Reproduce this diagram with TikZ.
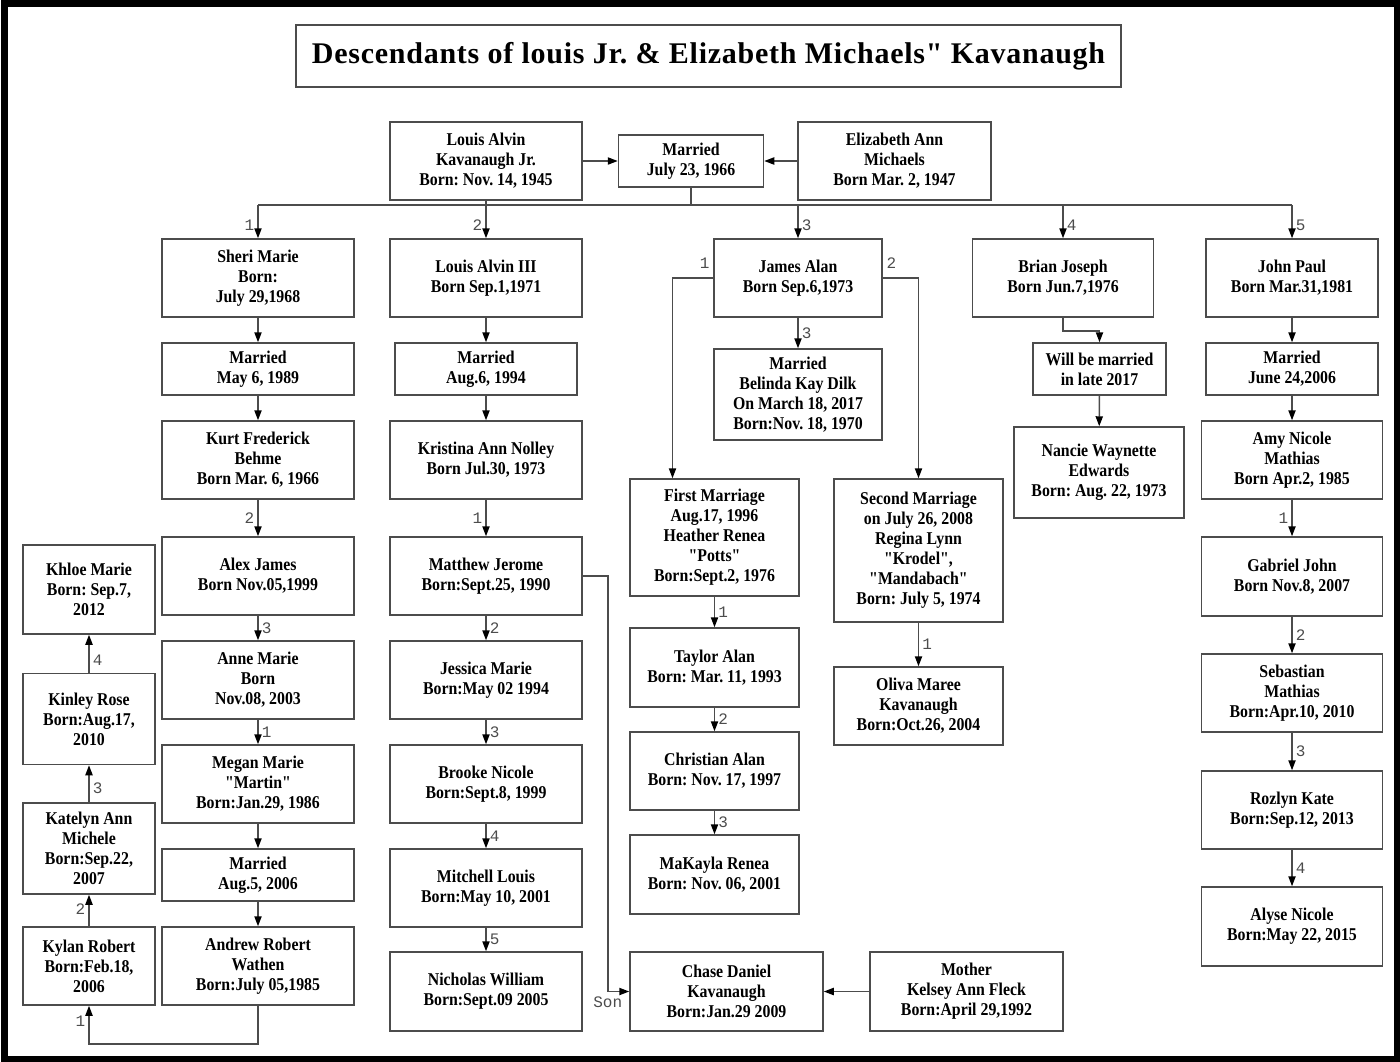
\documentclass[tikz,border=0pt]{standalone}
\usepackage{fontspec}
\setmainfont{Liberation Serif}[FakeStretch=0.88, Ligatures=TeXOff]
\setmonofont{Liberation Mono}
\newfontfamily\titlefont{Liberation Serif}[LetterSpace=2.5, Ligatures=TeXOff]
\usetikzlibrary{arrows.meta}
\frenchspacing

\begin{document}
\begin{tikzpicture}[x=0.5pt, y=-0.5pt,
  line/.style={draw=black!70, line width=0.75pt},
  arr/.style={line, -{Triangle[length=5pt, width=3.6pt, color=black]}},
  pbox/.style 2 args={line, align=center, inner sep=0pt, font=\bfseries\fontsize{9}{10}\selectfont, minimum width=#1*0.5pt, minimum height=#2*0.5pt},
  lbl/.style={font=\ttfamily\fontsize{8}{8}\selectfont, text=black!70, inner sep=1.5pt}]

\useasboundingbox (0,0) rectangle (1400,1061);
\draw[line width=3.5pt] (4,3) rectangle (1397,1059);

\node[pbox={825}{62}, font=\titlefont\bfseries\fontsize{15}{18}\selectfont] (title) at (708.5,56) {Descendants of louis Jr. \& Elizabeth Michaels" Kavanaugh};

% parents
\node[pbox={192}{78}] (louis) at (486,161) {Louis Alvin\\Kavanaugh Jr.\\Born: Nov. 14, 1945};
\node[pbox={145}{52}] (mar0) at (691,161) {Married\\July 23, 1966};
\node[pbox={193}{78}] (eliz) at (894.5,161) {Elizabeth Ann\\Michaels\\Born Mar. 2, 1947};

% first child and grandchildren
\node[pbox={192}{78}] (sheri) at (258,278) {Sheri Marie\\Born:\\July 29,1968};
\node[pbox={192}{52}] (mar1) at (258,369) {Married\\May 6, 1989};
\node[pbox={192}{78}] (kurt) at (258,460) {Kurt Frederick\\Behme\\Born Mar. 6, 1966};
\node[pbox={192}{78}] (alex) at (258,576) {Alex James\\Born Nov.05,1999};
\node[pbox={192}{78}] (anne) at (258,680) {Anne Marie\\Born\\Nov.08, 2003};
\node[pbox={192}{78}] (megan) at (258,784) {Megan Marie\\"Martin"\\Born:Jan.29, 1986};
\node[pbox={192}{52}] (mar1b) at (258,875) {Married\\Aug.5, 2006};
\node[pbox={192}{78}] (andrew) at (258,966) {Andrew Robert\\Wathen\\Born:July 05,1985};

\node[pbox={132}{89}] (khloe) at (89,589.5) {Khloe Marie\\Born: Sep.7,\\2012};
\node[pbox={132}{91}] (kinley) at (89,719) {Kinley Rose\\Born:Aug.17,\\2010};
\node[pbox={132}{91}] (katelyn) at (89,848.5) {Katelyn Ann\\Michele\\Born:Sep.22,\\2007};
\node[pbox={132}{78}] (kylan) at (89,966) {Kylan Robert\\Born:Feb.18,\\2006};

% second child
\node[pbox={192}{78}] (louis3) at (486,278) {Louis Alvin III\\Born Sep.1,1971};
\node[pbox={182}{52}] (mar2) at (486,369) {Married\\Aug.6, 1994};
\node[pbox={192}{78}] (kristina) at (486,460) {Kristina Ann Nolley\\Born Jul.30, 1973};
\node[pbox={192}{78}] (matthew) at (486,576) {Matthew Jerome\\Born:Sept.25, 1990};
\node[pbox={192}{78}] (jessica) at (486,680) {Jessica Marie\\Born:May 02 1994};
\node[pbox={192}{78}] (brooke) at (486,784) {Brooke Nicole\\Born:Sept.8, 1999};
\node[pbox={192}{78}] (mitchell) at (486,888) {Mitchell Louis\\Born:May 10, 2001};
\node[pbox={192}{79}] (nicholas) at (486,991.5) {Nicholas William\\Born:Sept.09 2005};

% third child
\node[pbox={168}{78}] (james) at (798,278) {James Alan\\Born Sep.6,1973};
\node[pbox={168}{91}] (belinda) at (798,394.5) {Married\\Belinda Kay Dilk\\On March 18, 2017\\Born:Nov. 18, 1970};
\node[pbox={169}{117}] (first) at (714.5,537.5) {First Marriage\\Aug.17, 1996\\Heather Renea\\"Potts"\\Born:Sept.2, 1976};
\node[pbox={169}{79}] (taylor) at (714.5,667.5) {Taylor Alan\\Born: Mar. 11, 1993};
\node[pbox={169}{78}] (christian) at (714.5,771) {Christian Alan\\Born: Nov. 17, 1997};
\node[pbox={169}{79}] (makayla) at (714.5,874.5) {MaKayla Renea\\Born: Nov. 06, 2001};
\node[pbox={169}{143}] (second) at (918.5,550.5) {Second Marriage\\on July 26, 2008\\Regina Lynn\\"Krodel",\\"Mandabach"\\Born: July 5, 1974};
\node[pbox={169}{78}] (oliva) at (918.5,706) {Oliva Maree\\Kavanaugh\\Born:Oct.26, 2004};
\node[pbox={193}{79}] (chase) at (726.5,991.5) {Chase Daniel\\Kavanaugh\\Born:Jan.29 2009};
\node[pbox={193}{79}] (mother) at (966.5,991.5) {Mother\\Kelsey Ann Fleck\\Born:April 29,1992};

% fourth child
\node[pbox={181}{78}] (brian) at (1063,278) {Brian Joseph\\Born Jun.7,1976};
\node[pbox={133}{52}] (will) at (1099.5,369) {Will be married\\in late 2017};
\node[pbox={170}{91}] (nancie) at (1099,472.5) {Nancie Waynette\\Edwards\\Born: Aug. 22, 1973};

% fifth child
\node[pbox={172}{78}] (john) at (1292,278) {John Paul\\Born Mar.31,1981};
\node[pbox={172}{52}] (marJ) at (1292,369) {Married\\June 24,2006};
\node[pbox={181}{78}] (amy) at (1292,460) {Amy Nicole\\Mathias\\Born Apr.2, 1985};
\node[pbox={181}{79}] (gabriel) at (1292,576.5) {Gabriel John\\Born Nov.8, 2007};
\node[pbox={181}{78}] (sebastian) at (1292,693) {Sebastian\\Mathias\\Born:Apr.10, 2010};
\node[pbox={181}{78}] (rozlyn) at (1292,810) {Rozlyn Kate\\Born:Sep.12, 2013};
\node[pbox={181}{79}] (alyse) at (1292,926.5) {Alyse Nicole\\Born:May 22, 2015};

% marriage and the children's bus
\draw[arr] (louis) -- (mar0);
\draw[arr] (eliz) -- (mar0);
\coordinate (bus) at (691,205);
\draw[line] (mar0) -- (bus);
\draw[line] (louis) -- (louis |- bus);
\draw[line] (bus -| sheri) -- (bus -| john);
\foreach \c/\n/\s in {sheri/1/left, louis3/2/left, james/3/right, brian/4/right, john/5/right}
\draw[arr] (bus -| \c) -- (\c) node[lbl, \s, pos=0.6] {\n};

% down the columns
\foreach \a/\b/\n/\s in {sheri/mar1//right, mar1/kurt//right, kurt/alex/2/left, alex/anne/3/right,
  anne/megan/1/right, megan/mar1b//right, mar1b/andrew//right,
  louis3/mar2//right, mar2/kristina//right, kristina/matthew/1/left, matthew/jessica/2/right,
  jessica/brooke/3/right, brooke/mitchell/4/right, mitchell/nicholas/5/right,
  james/belinda/3/right, first/taylor/1/right, taylor/christian/2/right, christian/makayla/3/right,
  second/oliva/1/right, will/nancie//right,
  john/marJ//right, marJ/amy//right, amy/gabriel/1/left, gabriel/sebastian/2/right,
  sebastian/rozlyn/3/right, rozlyn/alyse/4/right}
\draw[arr] (\a) -- (\b) node[lbl, \s, pos=0.5] {\n};

% great-grandchildren, going up
\foreach \a/\b/\n/\s/\p in {kylan/katelyn/2/left/0.55, katelyn/kinley/3/right/0.37, kinley/khloe/4/right/0.33}
\draw[arr] (\a) -- (\b) node[lbl, \s, pos=\p] {\n};
\draw[arr] (andrew.south) -- ++(0,38) -| (kylan.south) node[lbl, left, pos=0.8] {1};

% side branches
\draw[arr] (james.west) -| ([xshift=-21pt]first.north) node[lbl, above left, pos=0, yshift=3pt] {1};
\draw[arr] (james.east) -| (second.north) node[lbl, above right, pos=0, yshift=3pt] {2};
\draw[arr] (brian.south) -- ++(0,13) -| (will.north);
\draw[arr] (matthew.east) -- ++(25,0) |- (chase.west) node[lbl, below, pos=0.5, yshift=-1pt] {Son};
\draw[arr] (mother) -- (chase);

\end{tikzpicture}
\end{document}
